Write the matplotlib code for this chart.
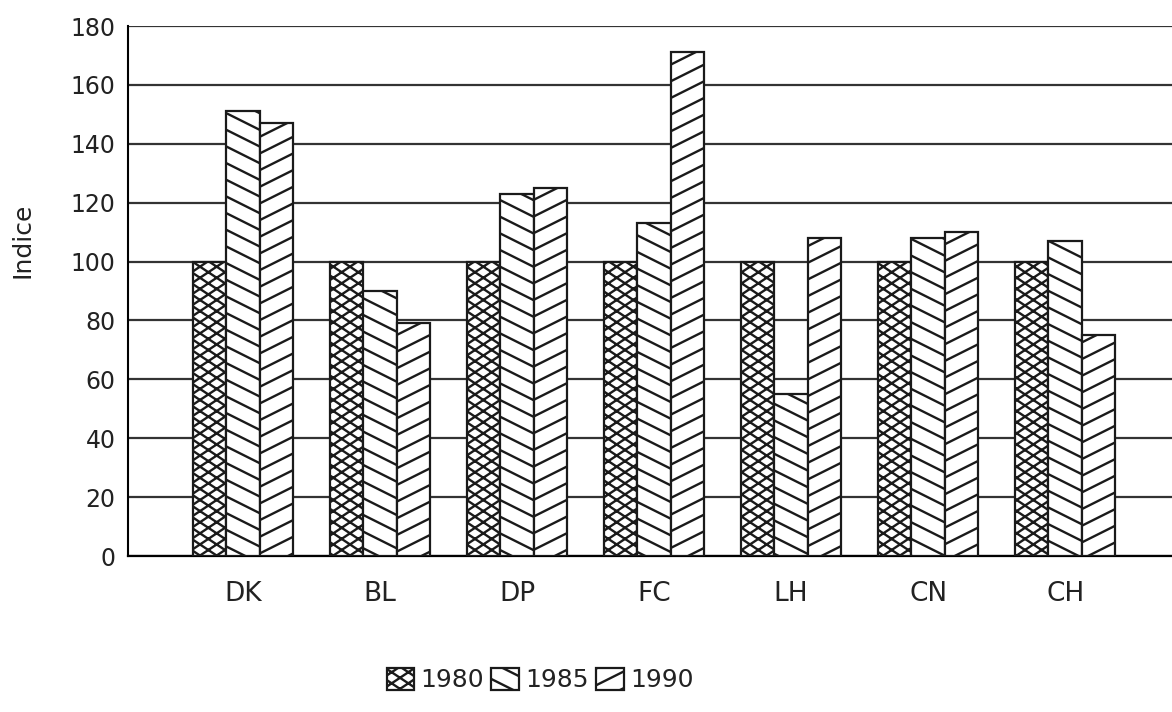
import matplotlib
matplotlib.use("Agg")
import matplotlib.pyplot as plt
import matplotlib.hatch as mhatch
from matplotlib.path import Path
import numpy as np

categories = ["DK", "BL", "DP", "FC", "LH", "CN", "CH"]
years = ["1980", "1985", "1990"]
v1980 = [100, 100, 100, 100, 100, 100, 100]
v1985 = [151, 90, 123, 113, 55, 108, 107]
v1990 = [147, 79, 125, 171, 108, 110, 75]
yticks = [0, 20, 40, 60, 80, 100, 120, 140, 160, 180]

# --- custom hatch styles (shallower diagonals like the original print) ---
_orig_get_path = mhatch.get_path


def _line_family(n, slope):
    segs = []
    for k in range(-3 * n, 3 * n + 1):
        c = k / n
        x0, x1 = -0.1, 1.1
        segs.append(((x0, c + slope * x0), (x1, c + slope * x1)))
    return segs


def _custom_get_path(hatchpattern, density=6):
    segs = None
    if hatchpattern == 'n':
        segs = _line_family(6, 0.5)
    elif hatchpattern == 's':
        segs = _line_family(6, -0.5)
    elif hatchpattern == 'c':
        segs = _line_family(9, 2 / 3) + _line_family(9, -2 / 3)
    if segs is None:
        return _orig_get_path(hatchpattern, density)
    verts = []
    codes = []
    for a, b in segs:
        verts += [a, b]
        codes += [Path.MOVETO, Path.LINETO]
    return Path(np.array(verts, float), np.array(codes, Path.code_type))


mhatch.get_path = _custom_get_path

plt.rcParams['font.family'] = ['DejaVu Sans']
plt.rcParams['hatch.linewidth'] = 1.7

fig = plt.figure(figsize=(11.72, 7.12), dpi=100)
ax = fig.add_axes([128/1172, 1-556/712, 1-128/1172, (556-26)/712])

x = np.arange(len(categories))
w = 0.245
series = [v1980, v1985, v1990]
bar_hatch = ['c', 's', 'n']
for i, (vals, lab) in enumerate(zip(series, years)):
    bars = ax.bar(x + (i-1)*w, vals, width=w, facecolor='white', edgecolor='#1a1a1a',
                  linewidth=1.6, label=lab, zorder=3)
    for b in bars:
        b._hatch = bar_hatch[i]

ax.set_ylim(0, 180)
ax.set_xlim(-0.84, 6.78)
ax.set_yticks(yticks)
ax.set_xticks(x)
ax.set_xticklabels(categories)
ax.tick_params(axis='y', length=0, pad=9, labelsize=17)
ax.tick_params(axis='x', length=0, pad=18, labelsize=19)
for t in ax.get_yticklabels() + ax.get_xticklabels():
    t.set_color('#222222')
ax.yaxis.grid(True, color='#333333', linewidth=1.6, zorder=0)
ax.set_axisbelow(True)
ax.spines['right'].set_visible(False)
ax.spines['top'].set_visible(False)
ax.spines['left'].set_linewidth(1.5)
ax.spines['bottom'].set_linewidth(1.6)
ax.set_ylabel("Indice", fontsize=18, color='#222222')
ax.yaxis.set_label_coords((35-128)/1044, (556-240)/530)

leg = fig.legend(loc='center', bbox_to_anchor=(540/1172, 1-680/712), ncol=3, frameon=False,
                 fontsize=18, handlelength=1.1, handleheight=1.0, handletextpad=0.25,
                 columnspacing=0.3)
for p, h in zip(leg.get_patches(), bar_hatch):
    p._hatch = h
for t in leg.get_texts():
    t.set_color('#222222')

fig.savefig("out.png", dpi=100)
